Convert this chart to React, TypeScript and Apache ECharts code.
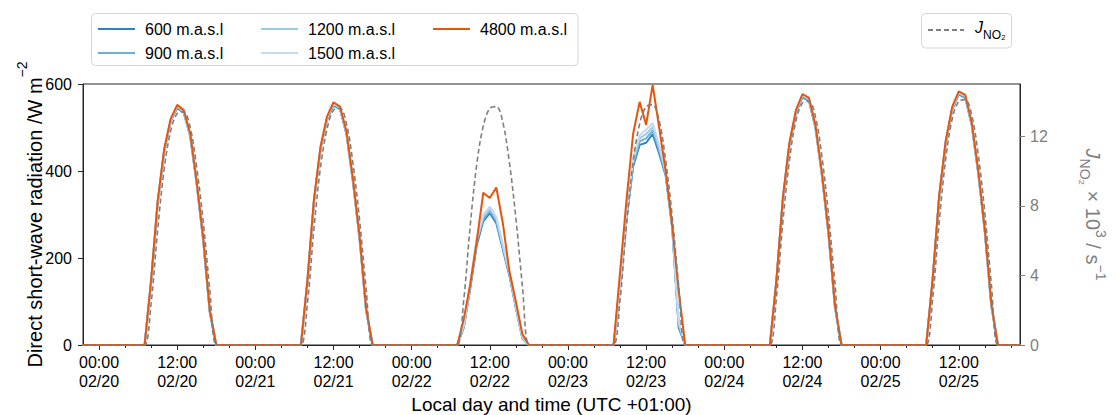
import React, { useEffect, useRef } from 'react';
import * as echarts from 'echarts';

// Days shown on the x axis (hours counted from 02/20 00:00 local time)
const dayLabels = ['02/20', '02/21', '02/22', '02/23', '02/24', '02/25'];
// Each daily array holds the hourly values from 07:00 to 18:00; night hours are 0
const firstHour = 7;

const alt600 = [
  [0, 145, 325, 445, 514, 545, 534, 480, 370, 240, 76, 0],
  [0, 145, 330, 450, 518, 551, 542, 484, 374, 245, 80, 0],
  [0, 40, 130, 230, 285, 303, 280, 220, 160, 85, 15, 0],
  [0, 130, 290, 410, 460, 465, 485, 440, 390, 270, 40, 0],
  [0, 145, 335, 460, 533, 570, 561, 499, 389, 255, 86, 0],
  [0, 150, 340, 465, 541, 576, 568, 504, 394, 260, 90, 0],
];
const alt900 = [
  [0, 146, 326, 446, 516, 547, 536, 482, 371, 241, 77, 0],
  [0, 146, 331, 451, 520, 553, 544, 486, 375, 246, 81, 0],
  [0, 42, 134, 236, 290, 308, 285, 224, 163, 87, 16, 0],
  [0, 133, 294, 416, 468, 475, 493, 447, 393, 272, 45, 0],
  [0, 146, 336, 461, 535, 572, 563, 501, 390, 256, 87, 0],
  [0, 151, 341, 466, 543, 578, 570, 506, 395, 261, 91, 0],
];
const alt1200 = [
  [0, 147, 327, 447, 517, 549, 537, 483, 372, 242, 78, 0],
  [0, 147, 332, 452, 521, 555, 545, 487, 376, 247, 82, 0],
  [0, 44, 138, 241, 295, 313, 290, 228, 166, 89, 17, 0],
  [0, 136, 298, 422, 475, 485, 501, 454, 396, 275, 50, 0],
  [0, 147, 337, 462, 537, 574, 565, 502, 392, 257, 88, 0],
  [0, 152, 342, 467, 545, 580, 572, 507, 397, 262, 92, 0],
];
const alt1500 = [
  [0, 148, 328, 448, 518, 550, 538, 484, 373, 243, 79, 0],
  [0, 148, 333, 453, 523, 556, 546, 488, 378, 248, 83, 0],
  [0, 46, 142, 246, 300, 318, 295, 232, 169, 91, 18, 0],
  [0, 140, 302, 428, 482, 495, 510, 460, 400, 278, 55, 0],
  [0, 148, 338, 463, 538, 575, 566, 503, 393, 258, 89, 0],
  [0, 153, 343, 468, 546, 581, 573, 508, 398, 263, 93, 0],
];
const alt4800 = [
  [0, 150, 330, 450, 520, 552, 540, 486, 375, 245, 80, 0],
  [0, 150, 335, 455, 525, 558, 548, 490, 380, 250, 85, 0],
  [0, 60, 140, 240, 350, 338, 362, 280, 170, 100, 25, 0],
  [0, 168, 336, 485, 559, 506, 598, 500, 400, 275, 125, 0],
  [0, 150, 340, 465, 540, 577, 568, 505, 395, 260, 90, 0],
  [0, 155, 345, 470, 548, 583, 575, 510, 400, 265, 95, 0],
];
// J(NO2) photolysis frequency, x 10^3 s^-1
const jNO2 = [
  [0, 2.4, 6.6, 10.1, 12.3, 13.3, 13.4, 12.5, 10.2, 7.1, 3.2, 0],
  [0, 2.4, 6.7, 10.2, 12.4, 13.5, 13.6, 12.7, 10.4, 7.2, 3.3, 0],
  [0, 2.6, 6.9, 10.4, 12.6, 13.6, 13.7, 12.8, 10.5, 7.3, 3.4, 0],
  [0, 2.6, 7.0, 10.5, 12.7, 13.7, 13.8, 12.9, 10.6, 7.4, 3.4, 0],
  [0, 2.7, 7.1, 10.6, 12.9, 13.9, 14.0, 13.1, 10.8, 7.5, 3.5, 0],
  [0, 2.7, 7.1, 10.7, 13.0, 14.0, 14.1, 13.2, 10.9, 7.6, 3.5, 0],
];

const startHour = -3;
const endHour = 142;
const majorTicks = [0, 12, 24, 36, 48, 60, 72, 84, 96, 108, 120, 132];
const minorTicks = [4, 8, 16, 20, 28, 32, 40, 44, 52, 56, 64, 68, 76, 80, 88, 92, 100, 104, 112, 116, 124, 128, 136, 140];

function buildSeries(days: number[][]): number[][] {
  const out: number[][] = [];
  for (let h = startHour; h <= endHour; h++) {
    const d = Math.floor(h / 24);
    const hr = h - d * 24;
    let v = 0;
    if (d >= 0 && d < days.length) {
      const idx = hr - firstHour;
      if (idx >= 0 && idx < days[d].length) v = days[d][idx];
    }
    out.push([h, v]);
  }
  return out;
}

const FONT = '"Liberation Sans", Arial, Helvetica, sans-serif';
const pad2 = (n: number) => (n < 10 ? '0' + n : '' + n);

export default function App() {
  const ref = useRef<HTMLDivElement>(null);
  useEffect(() => {
    if (!ref.current) return;
    const chart = echarts.init(ref.current, undefined, { renderer: 'svg' });
    const blue = ['#3182bd', '#6baed6', '#9ecae1', '#c6dbef'];
    const orange = '#e6550d';
    const mk = (name: string, data: number[][], color: string, z: number) => ({
      name,
      type: 'line',
      data,
      xAxisIndex: 0,
      yAxisIndex: 0,
      symbol: 'none',
      z,
      lineStyle: { color, width: 2 },
      itemStyle: { color },
    });
    const legendItem = (name: string, left: number, top: number) => ({
      data: [name],
      left,
      top,
      orient: 'horizontal',
      padding: 0,
      itemWidth: 37,
      itemHeight: 14,
      selectedMode: false,
      itemStyle: { opacity: 0 },
      textStyle: { fontFamily: FONT, fontSize: 16, color: '#000', padding: [0, 0, 0, 5] },
    });
    const option: any = {
      animation: false,
      backgroundColor: '#fff',
      grid: {
        left: 83,
        right: 95,
        top: 84,
        bottom: 70,
        outerBoundsMode: 'none',
        containLabel: false,
        show: true,
        borderColor: '#262626',
        borderWidth: 1,
        backgroundColor: 'transparent',
      },
      graphic: [
        {
          type: 'rect',
          z: 1,
          shape: { x: 91.5, y: 13.5, width: 486.5, height: 52, r: 4 },
          style: { fill: '#fff', stroke: '#d6d6d6', lineWidth: 1 },
        },
        {
          type: 'rect',
          z: 1,
          shape: { x: 921.5, y: 13.5, width: 90, height: 34.5, r: 4 },
          style: { fill: '#fff', stroke: '#d6d6d6', lineWidth: 1 },
        },
      ],
      legend: [
        legendItem('600 m.a.s.l', 97, 21),
        legendItem('1200 m.a.s.l', 260, 21),
        legendItem('4800 m.a.s.l', 432, 21),
        legendItem('900 m.a.s.l', 97, 45),
        legendItem('1500 m.a.s.l', 260, 45),
        {
          data: ['JNO2'],
          left: 927,
          top: 19,
          padding: 0,
          itemWidth: 36,
          itemHeight: 14,
          selectedMode: false,
          itemStyle: { opacity: 0 },
          formatter: () => '{i|J}{s|NO₂}',
          textStyle: {
            fontFamily: FONT,
            fontSize: 16,
            color: '#000',
            padding: [0, 0, 0, 6],
            rich: {
              i: { fontFamily: FONT, fontSize: 16, fontStyle: 'italic', color: '#000', lineHeight: 22, verticalAlign: 'top' },
              s: { fontFamily: FONT, fontSize: 12, color: '#000', lineHeight: 22, verticalAlign: 'bottom' },
            },
          },
        },
      ],
      xAxis: [
        {
          type: 'value',
          min: -2.46,
          max: 141.4,
          position: 'bottom',
          name: 'Local day and time (UTC +01:00)',
          nameLocation: 'middle',
          nameGap: 50,
          nameMoveOverlap: false,
          nameTextStyle: { fontFamily: FONT, fontSize: 19, lineHeight: 19, color: '#000' },
          axisLine: { show: true, onZero: false, lineStyle: { color: '#262626', width: 1 } },
          axisTick: { show: true, length: 5, customValues: majorTicks, lineStyle: { color: '#262626' } },
          axisLabel: {
            customValues: majorTicks,
            fontFamily: FONT,
            fontSize: 16,
            color: '#000',
            lineHeight: 19,
            margin: 8,
            formatter: (v: number) => {
              const d = Math.floor(v / 24);
              const hr = Math.round(v - d * 24);
              return pad2(hr) + ':00\n' + (dayLabels[d] || '');
            },
          },
          splitLine: { show: false },
        },
        {
          type: 'value',
          min: -2.46,
          max: 141.4,
          position: 'bottom',
          offset: 0,
          axisLine: { show: false, onZero: false },
          axisTick: { show: true, length: 3, customValues: minorTicks, lineStyle: { color: '#262626' } },
          axisLabel: { show: false },
          splitLine: { show: false },
        },
      ],
      yAxis: [
        {
          type: 'value',
          min: 0,
          max: 600,
          interval: 200,
          position: 'left',
          name: '{a|Direct short-wave radiation /W m}{p|−2}',
          nameLocation: 'middle',
          nameRotate: 90,
          nameGap: 38,
          nameMoveOverlap: false,
          nameTextStyle: {
            fontFamily: FONT,
            fontSize: 20,
            color: '#000',
            rich: {
              a: { fontFamily: FONT, fontSize: 20, color: '#000', lineHeight: 30, verticalAlign: 'bottom' },
              p: { fontFamily: FONT, fontSize: 14, color: '#000', lineHeight: 30, verticalAlign: 'top' },
            },
          },
          axisLine: { show: true, onZero: false, lineStyle: { color: '#262626', width: 1 } },
          axisTick: { show: true, length: 5, lineStyle: { color: '#262626' } },
          axisLabel: { fontFamily: FONT, fontSize: 16, color: '#000', margin: 11 },
          splitLine: { show: false },
        },
        {
          type: 'value',
          min: 0,
          max: 15,
          position: 'right',
          name: '{i|J}{s|NO₂}{a| × 10}{p|3}{a| / s}{p|−1}',
          nameLocation: 'middle',
          nameRotate: -90,
          nameGap: 58,
          nameMoveOverlap: false,
          nameTextStyle: {
            fontFamily: FONT,
            fontSize: 20,
            color: '#808080',
            rich: {
              i: { fontFamily: FONT, fontSize: 20, fontStyle: 'italic', color: '#808080', lineHeight: 30, verticalAlign: 'middle' },
              s: { fontFamily: FONT, fontSize: 14, color: '#808080', lineHeight: 30, verticalAlign: 'bottom' },
              a: { fontFamily: FONT, fontSize: 20, color: '#808080', lineHeight: 30, verticalAlign: 'middle' },
              p: { fontFamily: FONT, fontSize: 14, color: '#808080', lineHeight: 30, verticalAlign: 'top' },
            },
          },
          axisLine: { show: true, onZero: false, lineStyle: { color: '#262626', width: 1 } },
          axisTick: { show: true, length: 5, customValues: [0, 4, 8, 12], lineStyle: { color: '#808080' } },
          axisLabel: { customValues: [0, 4, 8, 12], fontFamily: FONT, fontSize: 16, color: '#808080', margin: 10 },
          splitLine: { show: false },
        },
      ],
      series: [
        mk('600 m.a.s.l', buildSeries(alt600), blue[0], 2),
        mk('900 m.a.s.l', buildSeries(alt900), blue[1], 3),
        mk('1200 m.a.s.l', buildSeries(alt1200), blue[2], 4),
        mk('1500 m.a.s.l', buildSeries(alt1500), blue[3], 5),
        mk('4800 m.a.s.l', buildSeries(alt4800), orange, 6),
        {
          name: 'JNO2',
          type: 'line',
          data: buildSeries(jNO2),
          xAxisIndex: 0,
          yAxisIndex: 1,
          symbol: 'none',
          smooth: 0.35,
          z: 7,
          lineStyle: { color: '#7f7f7f', width: 1.6, type: [5, 3] },
          itemStyle: { color: '#7f7f7f' },
        },
      ],
    };
    chart.setOption(option);
    return () => chart.dispose();
  }, []);
  return (
    <div
      ref={ref}
      style={{ position: 'fixed', left: 0, top: 0, width: 1115, height: 415, background: '#fff' }}
    />
  );
}
